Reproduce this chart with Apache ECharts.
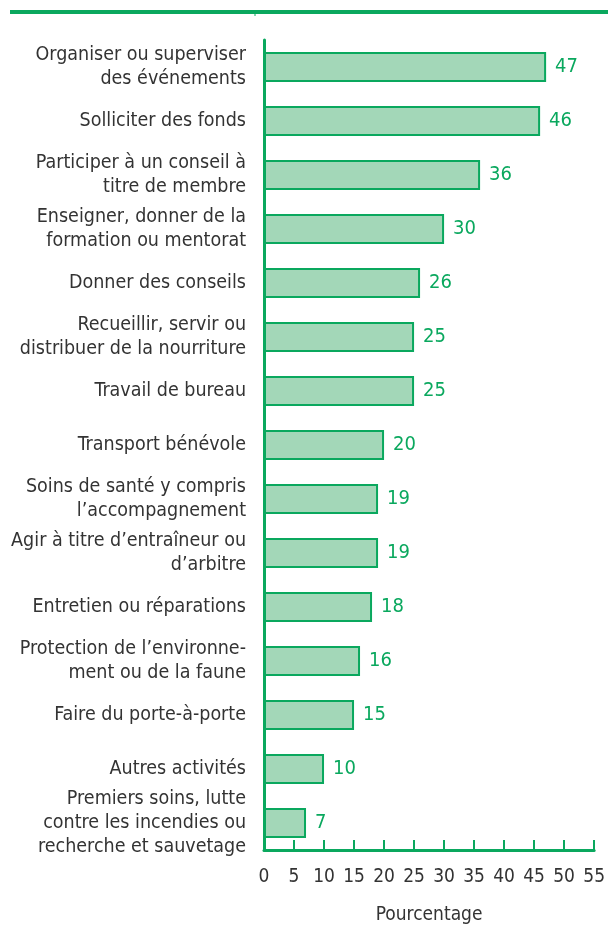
<!DOCTYPE html>
<html>
<head>
<meta charset="utf-8">
<script src="https://cdn.jsdelivr.net/npm/echarts@6/dist/echarts.min.js"></script>
<style>
html,body{margin:0;padding:0;background:#fff;}
#main{width:608px;height:930px;}
</style>
</head>
<body>
<div id="main"></div>
<script>
var categories = [
    'Organiser ou superviser\ndes événements',
    'Solliciter des fonds',
    'Participer à un conseil à\ntitre de membre',
    'Enseigner, donner de la\nformation ou mentorat',
    'Donner des conseils',
    'Recueillir, servir ou\ndistribuer de la nourriture',
    'Travail de bureau',
    'Transport bénévole',
    'Soins de santé y compris\nl’accompagnement',
    'Agir à titre d’entraîneur ou\nd’arbitre',
    'Entretien ou réparations',
    'Protection de l’environne-\nment ou de la faune',
    'Faire du porte-à-porte',
    'Autres activités',
    'Premiers soins, lutte\ncontre les incendies ou\nrecherche et sauvetage'
];
var values = [47, 46, 36, 30, 26, 25, 25, 20, 19, 19, 18, 16, 15, 10, 7];
var ticks = [0, 5, 10, 15, 20, 25, 30, 35, 40, 45, 50, 55];

var green = '#0aa85e';
var font = '"DejaVu Sans Condensed", sans-serif';

var myChart = echarts.init(document.getElementById('main'));

option = {
    animation: false,
    textStyle: { fontFamily: font },
    grid: { left: 264, right: 11, top: 40, bottom: 78 },
    graphic: [
        { type: 'line', shape: { x1: 10, y1: 12, x2: 608, y2: 12 }, style: { stroke: green, lineWidth: 4 } },
        { type: 'line', shape: { x1: 255, y1: 12, x2: 255, y2: 16 }, style: { stroke: green, lineWidth: 1 } }
    ],
    xAxis: {
        type: 'value',
        min: ticks[0],
        max: ticks[ticks.length - 1],
        interval: 5,
        name: 'Pourcentage',
        nameLocation: 'middle',
        nameGap: 56,
        nameTextStyle: { color: '#333', fontSize: 19, fontFamily: font },
        axisLine: { show: true, lineStyle: { color: green, width: 3 } },
        axisTick: { show: true, inside: true, length: 10, lineStyle: { color: green, width: 2 } },
        axisLabel: { color: '#333', fontSize: 19, margin: 18, fontFamily: font },
        splitLine: { show: false }
    },
    yAxis: {
        type: 'category',
        inverse: true,
        data: categories,
        axisLine: { show: true, lineStyle: { color: green, width: 3 } },
        axisTick: { show: false },
        axisLabel: { color: '#333', fontSize: 19.5, lineHeight: 24, margin: 18, align: 'right', fontFamily: font }
    },
    series: [
        {
            type: 'bar',
            data: values,
            barWidth: 30,
            itemStyle: { color: '#a3d7b8', borderColor: green, borderWidth: 2 },
            label: { show: true, position: 'right', distance: 9, color: green, fontSize: 20, fontFamily: font }
        }
    ]
};
myChart.setOption(option);
</script>
</body>
</html>
